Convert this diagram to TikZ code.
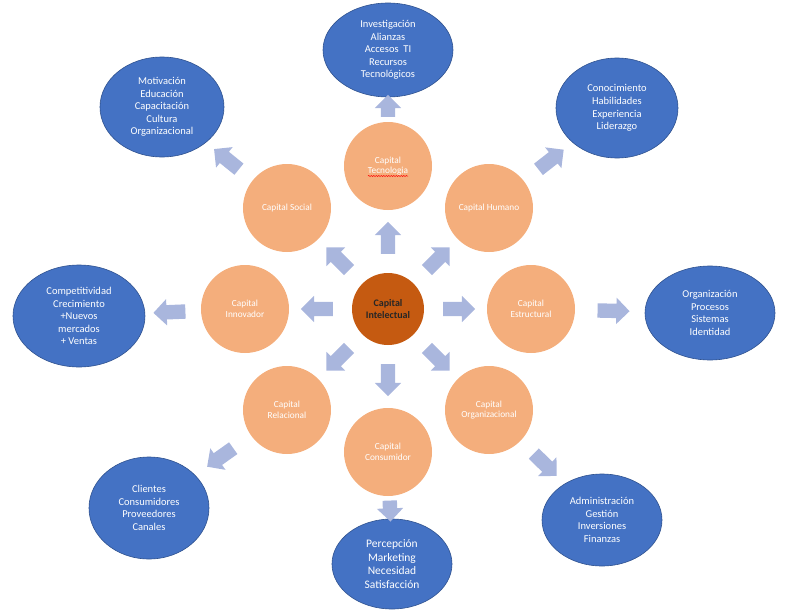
\documentclass[tikz,border=0pt]{standalone}
\usepackage{fontspec}
\setmainfont{Carlito}
\usetikzlibrary{positioning,shapes.geometric,shapes.arrows,decorations.pathmorphing}
\definecolor{azul}{RGB}{68,114,196}
\definecolor{azulborde}{RGB}{47,82,143}
\definecolor{naranja}{RGB}{244,174,124}
\definecolor{cobre}{RGB}{197,90,17}
\definecolor{lila}{RGB}{169,182,221}

\begin{document}
\begin{tikzpicture}[on grid,
    nucleo/.style={circle,fill=cobre,minimum size=72pt,inner sep=0pt,align=center,
      text=black!85,font=\fontsize{10}{11.5}\selectfont\bfseries},
    capital/.style={circle,fill=naranja,minimum size=88pt,inner sep=0pt,align=center,
      text=white,font=\fontsize{9.3}{10.5}\selectfont},
    rasgos/.style 2 args={ellipse,fill=azul,draw=azulborde,line width=0.6pt,inner sep=0pt,
      minimum width=#1,minimum height=#2,align=center,text=white,
      font=\fontsize{10.5}{12.6}\selectfont},
    flecha/.style={single arrow,fill=lila,minimum height=#1,minimum width=26pt,
      single arrow head extend=6pt,inner xsep=0pt,inner ysep=7pt,sloped,allow upside down},
    flecha/.default=32pt]
  \useasboundingbox (-388pt,-302pt) rectangle (412pt,309pt);
  \node[nucleo] (ci) at (0,0) {Capital\\Intelectual};
  \node[capital,above=143pt of ci] (tec) {Capital\\Tecnologia};
  \node[capital,above left=101pt and 101pt of ci] (soc) {Capital Social};
  \node[capital,above right=101pt and 101pt of ci] (hum) {Capital Humano};
  \node[capital,left=143pt of ci] (inn) {Capital\\Innovador};
  \node[capital,right=143pt of ci] (est) {Capital\\Estructural};
  \node[capital,below left=101pt and 101pt of ci] (rel) {Capital\\Relacional};
  \node[capital,below right=101pt and 101pt of ci] (org) {Capital\\Organizacional};
  \node[capital,below=143pt of ci] (con) {Capital\\Consumidor};

  \node[rasgos={130pt}{94pt},above=116pt of tec] (inv)
    {Investigación\\Alianzas\\Accesos~ TI\\Recursos\\Tecnológicos};
  \node[rasgos={124pt}{100pt},above left=101pt and 125pt of soc] (mot)
    {Motivación\\Educación\\Capacitación\\Cultura\\Organizacional};
  \node[rasgos={122pt}{100pt},above right=100pt and 128pt of hum] (cono)
    {Conocimiento\\Habilidades\\Experiencia\\Liderazgo};
  \node[rasgos={132pt}{102pt},below left=7pt and 166pt of inn] (comp)
    {Competitividad\\Crecimiento\\+Nuevos\\mercados\\+ Ventas};
  \node[rasgos={130pt}{94pt},below right=4pt and 179pt of est] (orgz)
    {Organización\\Procesos\\Sistemas\\Identidad};
  \node[rasgos={120pt}{102pt},below left=98pt and 138pt of rel] (cli)
    {Clientes\\Consumidores\\Proveedores\\Canales};
  \node[rasgos={120pt}{90pt},below right=112pt and 4pt of con,
    font=\fontsize{11.5}{13.7}\selectfont] (perc)
    {Percepción\\Marketing\\Necesidad\\Satisfacción};
  \node[rasgos={120pt}{92pt},below right=110pt and 113pt of org] (adm)
    {Administración\\Gestión\\Inversiones\\Finanzas};

  \path (ci) -- node[flecha] {} (tec); \path (ci) -- node[flecha] {} (soc);
  \path (ci) -- node[flecha] {} (hum); \path (ci) -- node[flecha] {} (inn);
  \path (ci) -- node[flecha] {} (est); \path (ci) -- node[flecha] {} (rel);
  \path (ci) -- node[flecha] {} (org); \path (ci) -- node[flecha] {} (con);
  \path (tec) -- node[flecha=22pt] {} (inv); \path (soc) -- node[flecha] {} (mot);
  \path (hum) -- node[flecha] {} (cono); \path (inn) -- node[flecha] {} (comp);
  \path (est) -- node[flecha] {} (orgz); \path (rel) -- node[flecha] {} (cli);
  \path (con) -- node[flecha=21pt] {} (perc); \path (org) -- node[flecha] {} (adm);

  \draw[red,line width=0.5pt,decorate,decoration={snake,amplitude=0.6pt,segment length=2.5pt}]
    ([shift={(-20pt,-10pt)}]tec.center) -- ([shift={(20pt,-10pt)}]tec.center);
\end{tikzpicture}
\end{document}
